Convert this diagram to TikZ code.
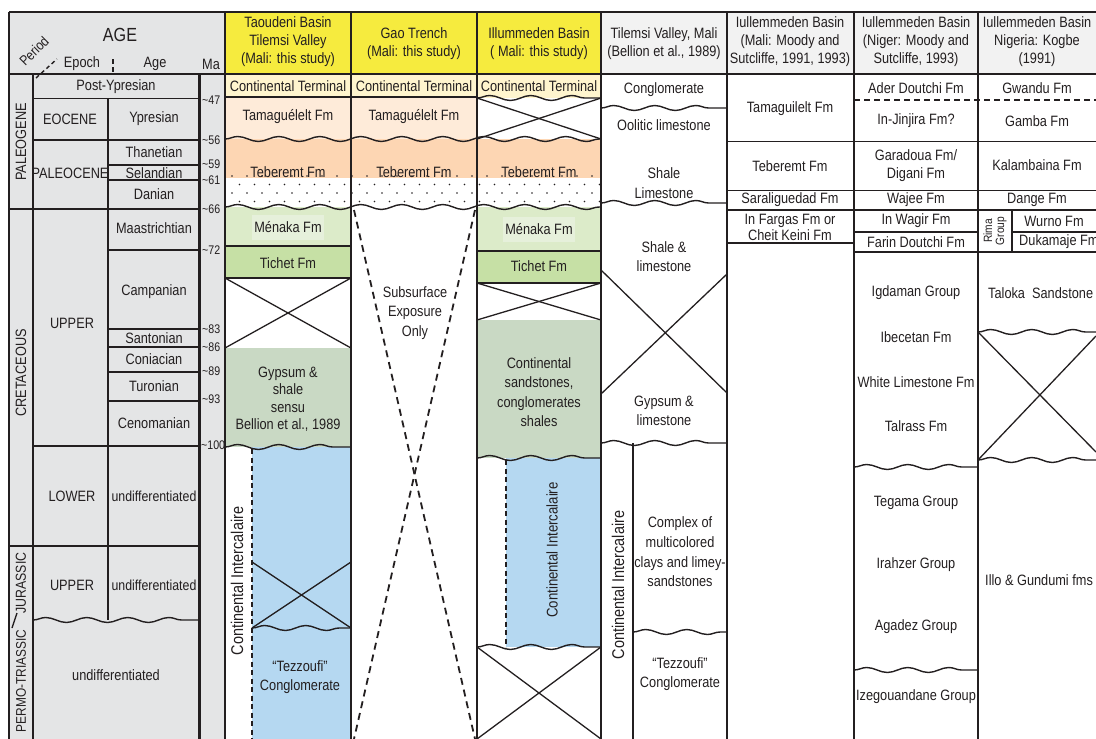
\documentclass[tikz,border=0pt]{standalone}
\usepackage{fontspec}
\setmainfont[FakeStretch=0.85]{Liberation Sans}
\usetikzlibrary{decorations.pathmorphing}
\definecolor{ink}{HTML}{231F20}
\definecolor{agegray}{HTML}{E4E5E6}
\definecolor{hdryellow}{HTML}{F6EB3E}
\definecolor{hdrgray}{HTML}{F2F2F2}
\definecolor{ctcream}{HTML}{FFF5CE}
\definecolor{tamapeach}{HTML}{FEEBD9}
\definecolor{teborange}{HTML}{FDD6B3}
\definecolor{menaka}{HTML}{DCEBC9}
\definecolor{menakalt}{HTML}{E6F0DB}
\definecolor{tichet}{HTML}{C6E0A5}
\definecolor{gyps}{HTML}{C9D9C4}
\definecolor{ciblue}{HTML}{B5D8F1}
\begin{document}
\begin{tikzpicture}[x=1pt,y=-1pt,
  txt/.style={font=\fontsize{15}{18}\selectfont,align=center,inner sep=0pt,text=ink},
  matxt/.style={font=\fontsize{12.5}{14}\selectfont,anchor=west,inner sep=0pt,text=ink},
  colline/.style={draw=ink,line width=2.2pt},
  hline/.style={draw=ink,line width=1.3pt},
  wavyline/.style={draw=ink,line width=1.4pt,decorate,decoration={snake,segment length=41pt,amplitude=2.5pt}},
  xline/.style={draw=ink,line width=1.3pt},
  gaodash/.style={draw=ink,line width=1.8pt,dash pattern=on 7pt off 5pt},
  cidash/.style={draw=ink,line width=1.6pt,dash pattern=on 5pt off 3.5pt},
  dotmark/.style={fill=ink}
]
\useasboundingbox (0,0) rectangle (1096,739);
\begin{scope}
\clip (0,0) rectangle (1096,739);
% ---------- backgrounds ----------
\fill[agegray] (9,12) rectangle (225,739);
\fill[hdryellow] (225,12) rectangle (601,74);
\fill[hdrgray] (601,12) rectangle (1096,74);
\fill[ctcream] (225,74) rectangle (477,97);
\fill[ctcream] (477,74) rectangle (601,98);
\fill[tamapeach] (225,97) rectangle (477,139);
\fill[teborange] (225,139) rectangle (601,178);
\fill[menaka] (225,207) rectangle (351,246);
\fill[tichet] (225,246) rectangle (351,278);
\fill[gyps] (225,348) rectangle (351,447);
\fill[ciblue] (252,447) rectangle (351,739);
\fill[menaka] (477,207) rectangle (601,251);
\fill[tichet] (477,251) rectangle (601,283);
\fill[gyps] (477,320) rectangle (601,458);
\fill[ciblue] (506,458) rectangle (601,647);
% ---------- dots ----------
\foreach \yy/\xo in {176/232,184.5/239.5,193/232,201.5/239.5}{
  \foreach \k in {0,...,24}{
    \fill[dotmark] ({\xo+15*\k},\yy) circle (0.9pt);
  }
}
% ---------- age column lines ----------
\draw[hline] (33,98.7) -- (199.5,98.7);
\draw[hline] (33,140) -- (199.5,140);
\draw[hline] (108,165) -- (199.5,165);
\draw[hline] (108,180) -- (199.5,180);
\draw[hline] (9,209) -- (199.5,209);
\draw[hline] (108,250) -- (199.5,250);
\draw[hline] (108,329) -- (199.5,329);
\draw[hline] (108,347) -- (199.5,347);
\draw[hline] (108,372) -- (199.5,372);
\draw[hline] (108,401) -- (199.5,401);
\draw[hline] (33,446) -- (199.5,446);
\draw[hline] (9,546) -- (199.5,546);
\draw[wavyline] (33,620) -- (199.5,620);
\draw[hline] (12,628) -- (17,613);
\draw[hline] (108,98.7) -- (108,620);
\draw[hline] (33,74) -- (33,739);
\draw[colline] (199.5,74) -- (199.5,739);
% ---------- study columns lines ----------
\draw[hline] (225,97) -- (477,97);
\draw[wavyline] (477,98) -- (601,98);
\draw[wavyline] (225,139) -- (601,139);
\draw[wavyline] (225,207) -- (601,207);
\draw[hline] (225,246) -- (351,246);
\draw[hline] (225,278) -- (351,278);
\draw[xline] (225,278) -- (351,348);
\draw[xline] (225,348) -- (351,278);
\draw[wavyline] (225,447) -- (351,447);
\draw[cidash] (252,449) -- (252,739);
\draw[xline] (252,562) -- (351,628);
\draw[xline] (252,628) -- (351,562);
\draw[wavyline] (252,628) -- (351,628);
% Gao
\draw[gaodash] (354,210) -- (475,739);
\draw[gaodash] (475,210) -- (354,739);
% Illummeden
\draw[xline] (477,98) -- (601,139);
\draw[xline] (477,139) -- (601,98);
\draw[hline] (477,251) -- (601,251);
\draw[hline] (477,283) -- (601,283);
\draw[xline] (477,283) -- (601,320);
\draw[xline] (477,320) -- (601,283);
\draw[wavyline] (477,458) -- (601,458);
\draw[cidash] (506,460) -- (506,647);
\draw[wavyline] (477,647) -- (601,647);
\draw[xline] (477,647) -- (601,739);
\draw[xline] (601,647) -- (477,739);
% Tilemsi Bellion
\draw[wavyline] (601,108) -- (727,108);
\draw[wavyline] (601,203) -- (727,203);
\draw[xline] (601,270) -- (727,393);
\draw[xline] (601,394) -- (727,274);
\draw[wavyline] (601,443) -- (727,443);
\draw[hline] (633,443) -- (633,739);
\draw[wavyline] (633,632) -- (727,632);
% Moody Mali
\draw[hline] (727,141.5) -- (854,141.5);
\draw[hline] (727,190.5) -- (854,190.5);
\draw[hline] (727,210) -- (854,210);
\draw[hline] (727,243) -- (854,243);
% Niger
\draw[dash pattern=on 6pt off 4pt,draw=ink,line width=1.4pt] (854,100) -- (1096,100);
\draw[hline] (854,141.5) -- (1096,141.5);
\draw[hline] (854,190.5) -- (1096,190.5);
\draw[hline] (854,210) -- (1096,210);
\draw[hline] (854,232) -- (978,232);
\draw[hline] (1012,232) -- (1096,232);
\draw[hline] (854,252) -- (1096,252);
\draw[hline] (1012,210) -- (1012,252);
\draw[wavyline] (854,467) -- (978,467);
\draw[wavyline] (854,670) -- (978,670);
% Nigeria
\draw[wavyline] (978,332) -- (1096,332);
\draw[wavyline] (978,460) -- (1096,460);
\draw[xline] (978,332) -- (1096,452);
\draw[xline] (978,460) -- (1096,336);
% ---------- frame ----------
\draw[draw=ink,line width=2.8pt] (9,12) -- (1096,12);
\draw[draw=ink,line width=2.8pt] (9,74) -- (1096,74);
\foreach \xx in {9,225,351,477,601,727,854,978}{
  \draw[colline] (\xx,12) -- (\xx,739);
}
% header decorations
\draw[draw=ink,line width=1.4pt,dash pattern=on 4pt off 3pt] (36,78) -- (57,59);
\draw[draw=ink,line width=1.4pt,dash pattern=on 5pt off 3pt] (113,59) -- (113,74);
% ---------- header texts ----------
\node[txt,font=\fontsize{19}{20}\selectfont] (hAGE) at (120,35) {AGE};
\node[txt,rotate=45,font=\fontsize{14}{16}\selectfont] (hPer) at (34,51) {Period};
\node[txt] (hEp) at (82,64) {Epoch};
\node[txt] (hAge) at (155,64) {Age};
\node[txt] (hMa) at (211,64) {Ma};
\node[txt] (h1) at (288,42) {Taoudeni Basin\\Tilemsi Valley\\(Mali: this study)};
\node[txt] (h2) at (414,44) {Gao Trench\\(Mali: this study)};
\node[txt] (h3) at (539,44) {Illummeden Basin\\( Mali: this study)};
\node[txt] (h4) at (664,44) {Tilemsi Valley, Mali\\(Bellion et al., 1989)};
\node[txt] (h5) at (790,42) {Iullemmeden Basin\\(Mali: Moody and\\Sutcliffe, 1991, 1993)};
\node[txt] (h6) at (916,42) {Iullemmeden Basin\\(Niger: Moody and\\Sutcliffe, 1993)};
\node[txt] (h7) at (1037,42) {Iullemmeden Basin\\Nigeria: Kogbe\\(1991)};
% ---------- age texts ----------
\node[txt,rotate=90] (pPal) at (21,142) {PALEOGENE};
\node[txt,rotate=90] (pCre) at (21,373) {CRETACEOUS};
\node[txt,rotate=90,font=\fontsize{14.5}{17}\selectfont] (pJur) at (21,583) {JURASSIC};
\node[txt,rotate=90,font=\fontsize{14}{17}\selectfont] (pPT) at (21,681) {PERMO-TRIASSIC};
\node[txt] (aPost) at (116,87) {Post-Ypresian};
\node[txt] (eEoc) at (70,119) {EOCENE};
\node[txt] (eYpr) at (154,119) {Ypresian};
\node[txt] (ePal) at (70,173) {PALEOCENE};
\node[txt] (aTha) at (154,152) {Thanetian};
\node[txt] (aSel) at (154,173) {Selandian};
\node[txt] (aDan) at (154,194) {Danian};
\node[txt] (aMaa) at (154,228) {Maastrichtian};
\node[txt] (aCam) at (154,292) {Campanian};
\node[txt] (eUpK) at (72,323) {UPPER};
\node[txt] (aSan) at (154,338) {Santonian};
\node[txt] (aCon) at (154,359) {Coniacian};
\node[txt] (aTur) at (154,386) {Turonian};
\node[txt] (aCen) at (154,423) {Cenomanian};
\node[txt] (eLoK) at (72,496) {LOWER};
\node[txt,font=\fontsize{14.5}{17}\selectfont] (aUndA) at (154,496) {undifferentiated};
\node[txt] (eUpJ) at (72,585) {UPPER};
\node[txt,font=\fontsize{14.5}{17}\selectfont] (aUndB) at (154,585) {undifferentiated};
\node[txt] (aUndC) at (116,675) {undifferentiated};
\node[matxt] (m47) at (202,100) {\textasciitilde 47};
\node[matxt] (m56) at (202,140) {\textasciitilde 56};
\node[matxt] (m59) at (202,164) {\textasciitilde 59};
\node[matxt] (m61) at (202,180) {\textasciitilde 61};
\node[matxt] (m66) at (202,209) {\textasciitilde 66};
\node[matxt] (m72) at (202,250) {\textasciitilde 72};
\node[matxt] (m83) at (202,329) {\textasciitilde 83};
\node[matxt] (m86) at (202,347) {\textasciitilde 86};
\node[matxt] (m89) at (202,371) {\textasciitilde 89};
\node[matxt] (m93) at (202,399) {\textasciitilde 93};
\node[matxt] (m100) at (201,445) {\textasciitilde 100};
% ---------- column 1 ----------
\node[txt] (c1ct) at (288,86) {Continental Terminal};
\node[txt] (c1tam) at (288,117) {Tamaguélelt Fm};
\node[txt] (c1teb) at (288,172) {Teberemt Fm};
\node[txt,fill=menakalt,minimum width=72pt,minimum height=25pt] (c1men) at (288,227) {Ménaka Fm};
\node[txt] (c1tic) at (288,263) {Tichet Fm};
\node[txt,font=\fontsize{15}{17.5}\selectfont] (c1gyp) at (288,399) {Gypsum \&\\shale\\sensu\\Bellion et al., 1989};
\node[txt,rotate=90,font=\fontsize{17}{19}\selectfont] (c1ci) at (237,581) {Continental Intercalaire};
\node[txt,font=\fontsize{15}{19}\selectfont] (c1tez) at (300,677) {“Tezzoufi”\\Conglomerate};
% ---------- column 2 ----------
\node[txt] (c2ct) at (414,86) {Continental Terminal};
\node[txt] (c2tam) at (414,117) {Tamaguélelt Fm};
\node[txt] (c2teb) at (414,172) {Teberemt Fm};
\node[txt,font=\fontsize{15}{19.5}\selectfont] (c2sub) at (415,313) {Subsurface\\Exposure\\Only};
% ---------- column 3 ----------
\node[txt] (c3ct) at (539,86) {Continental Terminal};
\node[txt] (c3teb) at (539,172) {Teberemt Fm};
\node[txt,fill=menakalt,minimum width=72pt,minimum height=25pt] (c3men) at (539,229) {Ménaka Fm};
\node[txt] (c3tic) at (539,266) {Tichet Fm};
\node[txt,font=\fontsize{15}{19.3}\selectfont] (c3cs) at (539,392) {Continental\\sandstones,\\conglomerates\\shales};
\node[txt,rotate=90,font=\fontsize{15.5}{18}\selectfont] (c3ci) at (552,550) {Continental Intercalaire};
% ---------- column 4 ----------
\node[txt] (c4con) at (664,90) {Conglomerate};
\node[txt] (c4ool) at (664,125) {Oolitic limestone};
\node[txt,font=\fontsize{15}{20}\selectfont] (c4sl) at (664,183) {Shale\\Limestone};
\node[txt,font=\fontsize{15}{19}\selectfont] (c4shl) at (664,257) {Shale \&\\limestone};
\node[txt,font=\fontsize{15}{19}\selectfont] (c4gyp) at (664,411) {Gypsum \&\\limestone};
\node[txt,rotate=90,font=\fontsize{17}{19}\selectfont] (c4ci) at (618,585) {Continental Intercalaire};
\node[txt,font=\fontsize{15}{19.7}\selectfont] (c4cx) at (680,552) {Complex of\\multicolored\\clays and limey-\\sandstones};
\node[txt,font=\fontsize{15}{19}\selectfont] (c4tez) at (680,674) {“Tezzoufi”\\Conglomerate};
% ---------- column 5 ----------
\node[txt] (c5tam) at (790,109) {Tamaguilelt Fm};
\node[txt] (c5teb) at (790,166) {Teberemt Fm};
\node[txt] (c5sar) at (790,200) {Saraliguedad Fm};
\node[txt,font=\fontsize{15}{16}\selectfont] (c5inf) at (790,227) {In Fargas Fm or\\Cheit Keini Fm};
% ---------- column 6 ----------
\node[txt] (c6ade) at (916,88) {Ader Doutchi Fm};
\node[txt] (c6inj) at (916,121) {In-Jinjira Fm?};
\node[txt] (c6gar) at (916,166) {Garadoua Fm/\\Digani Fm};
\node[txt] (c6waj) at (916,200) {Wajee Fm};
\node[txt] (c6inw) at (916,221) {In Wagir Fm};
\node[txt] (c6far) at (916,242) {Farin Doutchi Fm};
\node[txt] (c6igd) at (916,293) {Igdaman Group};
\node[txt] (c6ibe) at (916,337) {Ibecetan Fm};
\node[txt] (c6whi) at (916,382) {White Limestone Fm};
\node[txt] (c6tal) at (916,426) {Talrass Fm};
\node[txt] (c6teg) at (916,503) {Tegama Group};
\node[txt] (c6ira) at (916,565) {Irahzer Group};
\node[txt] (c6aga) at (916,627) {Agadez Group};
\node[txt] (c6ize) at (916,697) {Izegouandane Group};
% ---------- column 7 ----------
\node[txt] (c7gwa) at (1037,88) {Gwandu Fm};
\node[txt] (c7gam) at (1037,121) {Gamba Fm};
\node[txt] (c7kal) at (1037,165) {Kalambaina Fm};
\node[txt] (c7dan) at (1037,200) {Dange Fm};
\node[txt,rotate=90,font=\fontsize{12}{12}\selectfont] (c7rim) at (995,231) {Rima\\Group};
\node[txt] (c7wur) at (1054,221) {Wurno Fm};
\node[txt,anchor=west] (c7duk) at (1019,242) {Dukamaje Fm};
\node[txt,anchor=west] (c7tal) at (988,293) {Taloka\ \ Sandstone};
\node[txt,anchor=west] (c7ill) at (985,580) {Illo \& Gundumi fms};
\end{scope}
\end{tikzpicture}
\end{document}
